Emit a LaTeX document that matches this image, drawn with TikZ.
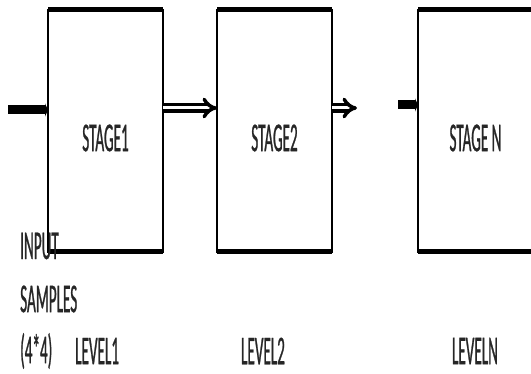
\documentclass[tikz,border=0pt]{standalone}
\usepackage{fontspec}
\newfontfamily\narrowfont[FakeStretch=0.37, FakeBold=0.6]{Carlito}
\usetikzlibrary{arrows.meta}
\usetikzlibrary{positioning}
\tikzset{stagebox/.style = {draw, line width=1.6pt, minimum width=115pt, minimum height=242pt,
                            inner sep=0, outer sep=0}}
\tikzset{edge/.style = {line width=5pt}}
\tikzset{txt/.style = {font=\narrowfont\fontsize{41}{44}\selectfont, inner sep=0, text=black!85}}
\tikzset{feed/.style = {line width=9pt, -{Triangle[length=3pt,width=13pt]}}}
\tikzset{dbl/.style = {double, line width=3.5pt, double distance=3pt}}

\begin{document}
\begin{tikzpicture}[x=1pt, y=-1pt]
    \useasboundingbox (0, 0) rectangle (531, 374);
    \clip (0, 0) rectangle (531, 374);

    % the three stages
    \node [stagebox] (s1) at (105.5, 131) {};
    \node [stagebox] (s2) at (274.5, 131) {};
    \node [stagebox] (sn) at (475.5, 131) {};
    \foreach \s in {s1, s2, sn} {
        \draw [edge] (\s.north west) -- (\s.north east);
        \draw [edge] (\s.south west) -- (\s.south east);
    }
    \node [txt] (t1) at ([yshift=-7pt]s1.center) {STAGE1};
    \node [txt] (t2) at ([yshift=-7pt]s2.center) {STAGE2};
    \node [txt] (tn) at ([yshift=-7pt]sn.center) {STAGE N};

    % connections
    \coordinate (in) at (8, 110);
    \coordinate (gap) at (357, 108);
    \coordinate (back) at (398, 105);
    \draw [feed] (in) -- (in -| s1.west);
    \draw [dbl, -{Implies[length=4pt]}] ([yshift=23pt]s1.east) -- ([yshift=23pt]s2.west);
    \draw [dbl, -{Implies[length=6pt]}] ([yshift=23pt]s2.east) -- (gap);
    \draw [feed] (back) -- (back -| sn.west);

    % labels underneath
    \node [txt, anchor=west] (inp) at (20, 246) {INPUT};
    \node [txt, anchor=west] (smp) at (20, 299) {SAMPLES};
    \node [txt, anchor=west] (dim) at (20, 351) {(4*4)};
    \node [txt, anchor=west] (l1) at (75, 351) {LEVEL1};
    \node [txt] (l2) at (263, 351) {LEVEL2};
    \node [txt] (ln) at (475, 351) {LEVELN};
\end{tikzpicture}
\end{document}
